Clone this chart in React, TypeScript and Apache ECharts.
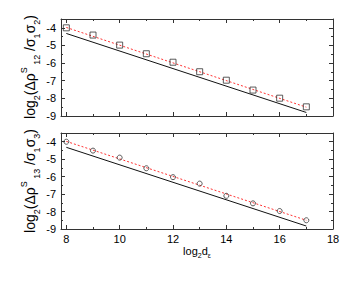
import React, { useEffect, useRef } from "react";
import * as echarts from "echarts";

const xValues = [8, 9, 10, 11, 12, 13, 14, 15, 16, 17];
const topPoints = [-4.0, -4.41, -4.98, -5.47, -5.95, -6.49, -6.97, -7.53, -7.99, -8.48];
const bottomPoints = [-4.0, -4.51, -4.91, -5.52, -6.03, -6.4, -7.1, -7.53, -7.97, -8.5];
const fitX = [8, 17];
const topRedFit = [-3.98, -8.5];
const topBlackFit = [-4.32, -8.8];
const bottomRedFit = [-3.98, -8.5];
const bottomBlackFit = [-4.32, -8.83];
const xMajorTicks = [8, 10, 12, 14, 16, 18];
const xMinorTicks = [9, 11, 13, 15, 17];

const FONT = "Liberation Sans, Arial, sans-serif";
const AX = "#333";

export default function App() {
  const ref = useRef<HTMLDivElement>(null);
  useEffect(() => {
    const chart = echarts.init(ref.current!, null, { renderer: "svg" });
    const pairs = (xs: number[], ys: number[]) => xs.map((x, i) => [x, ys[i]]);
    const grids = [
      { left: 61, top: 19, width: 272, height: 97 },
      { left: 61, top: 133, width: 272, height: 96 },
    ];
    const xBase = (gi: number, pos: string, labels: boolean) => ({
      type: "value",
      gridIndex: gi,
      position: pos,
      min: 7.8,
      max: 18,
      axisLine: { show: true, onZero: false, lineStyle: { color: AX, width: 1 } },
      axisTick: { show: true, inside: true, length: 4, customValues: xMajorTicks, lineStyle: { color: AX } },
      splitLine: { show: false },
      axisLabel: {
        show: labels,
        margin: 4,
        fontFamily: FONT,
        fontSize: 11,
        color: "#000",
        customValues: xMajorTicks,
      },
    });
    const xMinor = (gi: number, pos: string) => ({
      type: "value",
      gridIndex: gi,
      position: pos,
      min: 7.8,
      max: 18,
      axisLine: { show: false, onZero: false },
      axisTick: { show: true, inside: true, length: 2, customValues: xMinorTicks, lineStyle: { color: AX } },
      splitLine: { show: false },
      axisLabel: { show: false },
    });
    const yBase = (gi: number, pos: string, labels: boolean) => ({
      type: "value",
      gridIndex: gi,
      position: pos,
      min: -9,
      max: -3.5,
      interval: 1,
      axisLine: { show: true, onZero: false, lineStyle: { color: AX, width: 1 } },
      axisTick: { show: true, inside: true, length: 4, lineStyle: { color: AX } },
      minorTick: { show: true, splitNumber: 2, length: 2, lineStyle: { color: AX } },
      splitLine: { show: false },
      axisLabel: {
        show: labels,
        margin: 5,
        fontFamily: FONT,
        fontSize: 11,
        color: "#000",
        showMaxLabel: false,
      },
    });
    const xAxis: any[] = [
      xBase(0, "bottom", false),
      xBase(0, "top", false),
      {
        ...xBase(1, "bottom", true),
        name: "{b|log}{s|2}{b|d}{s|ε}",
        nameLocation: "middle",
        nameGap: 14,
        nameTextStyle: {
          rich: {
            b: { fontFamily: FONT, fontSize: 11, lineHeight: 16, verticalAlign: "middle", color: "#000" },
            s: { fontFamily: FONT, fontSize: 7, lineHeight: 8, verticalAlign: "bottom", color: "#000" },
          },
        },
      },
      xBase(1, "top", false),
      xMinor(0, "bottom"),
      xMinor(0, "top"),
      xMinor(1, "bottom"),
      xMinor(1, "top"),
    ];
    const yAxis: any[] = [
      yBase(0, "left", true),
      yBase(0, "right", false),
      yBase(1, "left", true),
      yBase(1, "right", false),
    ];
    const rich = {
      b: { fontFamily: FONT, fontSize: 14, lineHeight: 22, verticalAlign: "middle", fill: "#000" },
      s: { fontFamily: FONT, fontSize: 9, lineHeight: 10, verticalAlign: "bottom", fill: "#000" },
      p: { fontFamily: FONT, fontSize: 9, lineHeight: 10, verticalAlign: "top", fill: "#000" },
    };
    const yTitle = (sub: string, y: number, s1: string, s2: string) => ({
      type: "text",
      x: 30,
      y,
      rotation: Math.PI / 2,
      style: {
        text: `{b|log}{s|2}{b|(Δρ}{p|S}{s| ${sub}}{b| /σ}{s|${s1}}{b|σ}{s|${s2}}{b|)}`,
        rich,
        align: "center",
        verticalAlign: "middle",
      },
    });
    const redLine = (gi: number, ys: number[]) => ({
      type: "line",
      xAxisIndex: gi * 2,
      yAxisIndex: gi * 2,
      data: pairs(fitX, ys),
      symbol: "none",
      lineStyle: { color: "#ff3333", width: 1, type: [2, 2] },
      z: 2,
    });
    const blackLine = (gi: number, ys: number[]) => ({
      type: "line",
      xAxisIndex: gi * 2,
      yAxisIndex: gi * 2,
      data: pairs(fitX, ys),
      symbol: "none",
      lineStyle: { color: "#111", width: 1 },
      z: 2,
    });
    chart.setOption({
      animation: false,
      backgroundColor: "#fff",
      grid: grids,
      xAxis,
      yAxis,
      graphic: [yTitle("12", 67, "1", "2"), yTitle("13", 181, "1", "3")],
      series: [
        blackLine(0, topBlackFit),
        redLine(0, topRedFit),
        {
          type: "scatter",
          xAxisIndex: 0,
          yAxisIndex: 0,
          data: pairs(xValues, topPoints),
          symbol: "rect",
          symbolSize: 6,
          itemStyle: { color: "rgba(255,255,255,0)", borderColor: "#333", borderWidth: 1 },
          z: 3,
        },
        blackLine(1, bottomBlackFit),
        redLine(1, bottomRedFit),
        {
          type: "scatter",
          xAxisIndex: 2,
          yAxisIndex: 2,
          data: pairs(xValues, bottomPoints),
          symbol: "circle",
          symbolSize: 5,
          itemStyle: { color: "rgba(255,255,255,0)", borderColor: "#333", borderWidth: 1 },
          z: 3,
        },
      ],
    });
    return () => chart.dispose();
  }, []);
  return <div ref={ref} style={{ width: 358, height: 282, position: "absolute", left: 0, top: 0 }} />;
}
